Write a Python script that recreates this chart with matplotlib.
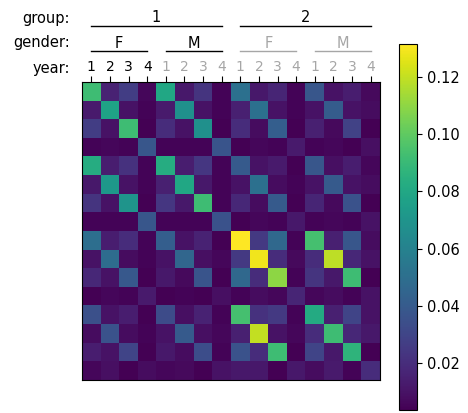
import numpy as np
import matplotlib
matplotlib.use("Agg")
import matplotlib.pyplot as plt
import matplotlib.transforms as mtransforms

groups = ["1", "2"]
genders = ["F", "M"]
years = ["1", "2", "3", "4"]

row_00 = [0.092, 0.016, 0.027, 0.006, 0.080, 0.012, 0.023, 0.005, 0.051, 0.012, 0.017, 0.005, 0.038, 0.010, 0.014, 0.007]
row_01 = [0.013, 0.078, 0.010, 0.005, 0.013, 0.068, 0.010, 0.005, 0.015, 0.051, 0.010, 0.005, 0.010, 0.041, 0.010, 0.008]
row_02 = [0.027, 0.010, 0.092, 0.004, 0.020, 0.010, 0.068, 0.004, 0.020, 0.008, 0.042, 0.004, 0.015, 0.007, 0.029, 0.004]
row_03 = [0.005, 0.006, 0.005, 0.038, 0.005, 0.005, 0.005, 0.037, 0.004, 0.006, 0.005, 0.013, 0.005, 0.006, 0.004, 0.009]
row_04 = [0.083, 0.014, 0.022, 0.005, 0.083, 0.014, 0.024, 0.005, 0.040, 0.010, 0.013, 0.004, 0.038, 0.009, 0.014, 0.006]
row_05 = [0.012, 0.072, 0.010, 0.005, 0.015, 0.080, 0.012, 0.005, 0.010, 0.051, 0.008, 0.005, 0.010, 0.040, 0.010, 0.008]
row_06 = [0.023, 0.010, 0.070, 0.004, 0.024, 0.012, 0.092, 0.005, 0.018, 0.008, 0.040, 0.004, 0.017, 0.007, 0.036, 0.004]
row_07 = [0.005, 0.005, 0.005, 0.038, 0.005, 0.005, 0.005, 0.036, 0.004, 0.006, 0.005, 0.012, 0.005, 0.006, 0.005, 0.010]
row_08 = [0.050, 0.014, 0.020, 0.005, 0.042, 0.010, 0.016, 0.004, 0.1315, 0.025, 0.047, 0.005, 0.094, 0.015, 0.038, 0.008]
row_09 = [0.010, 0.049, 0.008, 0.005, 0.010, 0.046, 0.009, 0.006, 0.025, 0.129, 0.020, 0.007, 0.020, 0.119, 0.018, 0.010]
row_10 = [0.018, 0.010, 0.039, 0.004, 0.012, 0.007, 0.037, 0.004, 0.047, 0.020, 0.110, 0.005, 0.023, 0.012, 0.092, 0.004]
row_11 = [0.004, 0.006, 0.005, 0.013, 0.004, 0.005, 0.004, 0.009, 0.005, 0.008, 0.006, 0.017, 0.006, 0.008, 0.005, 0.010]
row_12 = [0.035, 0.010, 0.014, 0.004, 0.033, 0.009, 0.016, 0.005, 0.094, 0.022, 0.025, 0.005, 0.082, 0.015, 0.030, 0.010]
row_13 = [0.008, 0.036, 0.008, 0.005, 0.010, 0.040, 0.009, 0.006, 0.015, 0.120, 0.010, 0.006, 0.020, 0.092, 0.018, 0.012]
row_14 = [0.014, 0.010, 0.030, 0.004, 0.012, 0.008, 0.034, 0.005, 0.036, 0.020, 0.092, 0.004, 0.030, 0.012, 0.087, 0.004]
row_15 = [0.006, 0.009, 0.0036, 0.008, 0.006, 0.007, 0.004, 0.010, 0.012, 0.012, 0.004, 0.012, 0.008, 0.013, 0.005, 0.020]

matrix = np.array([row_00, row_01, row_02, row_03, row_04, row_05, row_06, row_07,
                   row_08, row_09, row_10, row_11, row_12, row_13, row_14, row_15])

W, H = 468, 413
fig = plt.figure(figsize=(W / 100, H / 100), dpi=100)
ax = fig.add_axes([82 / W, 1 - 380 / H, 298 / W, 298 / H])
im = ax.imshow(matrix, cmap="viridis", aspect="auto", interpolation="nearest")

n = matrix.shape[0]
ncol = len(years)
gray = "#a6a6a6"
fs = 10.5

# year tick labels at top
ax.xaxis.tick_top()
ax.set_xticks(np.arange(n))
year_labels = [years[i % ncol] for i in range(n)]
ax.set_xticklabels(year_labels, fontsize=10)
ax.set_yticks([])
ax.tick_params(axis="x", length=4, pad=2)
for i, (lab, tick) in enumerate(zip(ax.get_xticklabels(), ax.xaxis.get_major_ticks())):
    if i >= ncol:
        lab.set_color(gray)
        tick.tick2line.set_color(gray)
        tick.tick1line.set_color(gray)

trans = mtransforms.blended_transform_factory(ax.transData, fig.transFigure)

def fy(px):
    return 1 - px / H

# gender labels and lines
for g_idx, g in enumerate(groups):
    col = "black" if g_idx == 0 else gray
    for s_idx, s in enumerate(genders):
        start = (g_idx * len(genders) + s_idx) * ncol
        end = start + ncol - 1
        ax.text((start + end) / 2, fy(43), s, transform=trans, ha="center", va="center",
                fontsize=fs, color=col)
        ax.plot([start, end], [fy(51), fy(51)], transform=trans, color=col, lw=1.0, clip_on=False)

# group labels and lines
for g_idx, g in enumerate(groups):
    start = g_idx * len(genders) * ncol
    end = start + len(genders) * ncol - 1
    ax.text((start + end) / 2, fy(18), g, transform=trans, ha="center", va="center",
            fontsize=fs, color="black")
    ax.plot([start, end], [fy(26), fy(26)], transform=trans, color="black", lw=1.0, clip_on=False)

fig.text(70 / W, fy(18), "group:", ha="right", va="center", fontsize=fs)
fig.text(70 / W, fy(43), "gender:", ha="right", va="center", fontsize=fs)
fig.text(70 / W, fy(68), "year:", ha="right", va="center", fontsize=fs)

cax = fig.add_axes([399 / W, 3 / H, 18 / W, 366 / H])
cb = fig.colorbar(im, cax=cax)
cb.set_ticks([0.02, 0.04, 0.06, 0.08, 0.10, 0.12])
cb.ax.tick_params(labelsize=10.5)

fig.savefig("out.png", dpi=100)
